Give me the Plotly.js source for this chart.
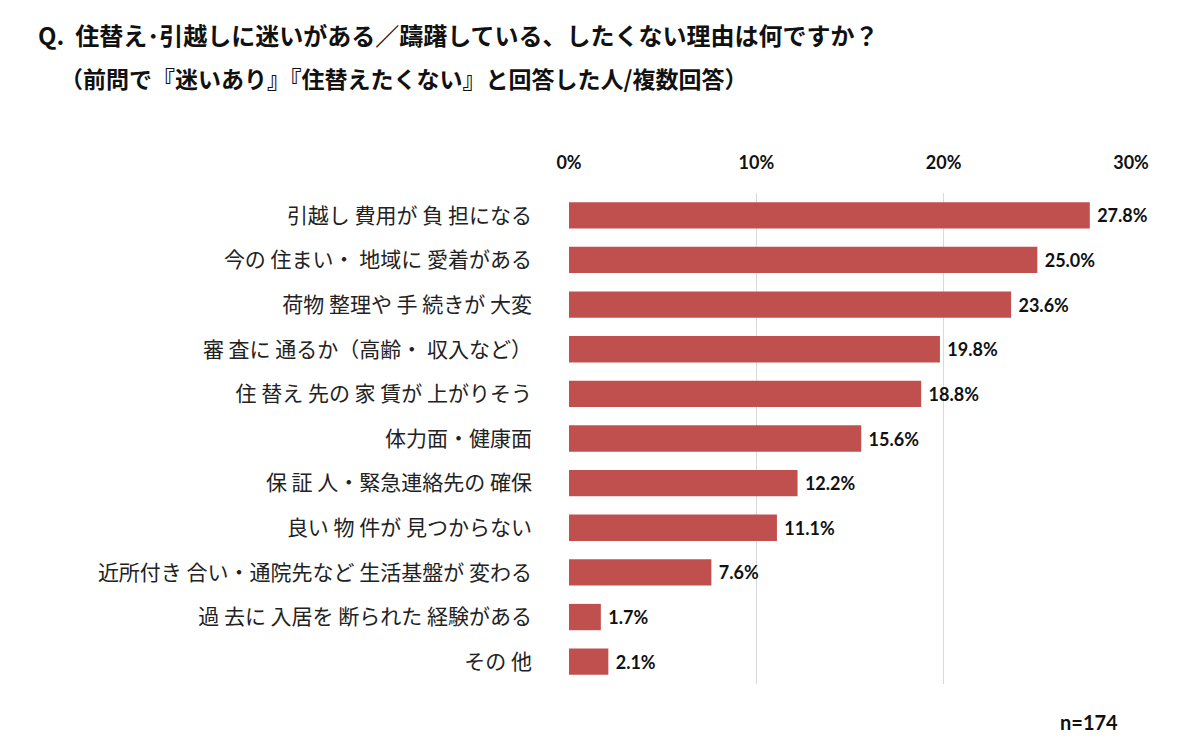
<!DOCTYPE html>
<html>
<head>
<meta charset="utf-8">
<script src="https://cdn.plot.ly/plotly-3.0.1.min.js"></script>
<style>html,body{margin:0;padding:0;background:#fff;}#chart{width:1200px;height:744px;}</style>
</head>
<body>
<div id="chart"></div>
<script>
const categories = [
  "引越し 費用が 負 担になる",
  "今の 住まい・ 地域に 愛着がある",
  "荷物 整理や 手 続きが 大変",
  "審 査に 通るか（高齢・ 収入など）",
  "住 替え 先の 家 賃が 上がりそう",
  "体力面・健康面",
  "保 証 人・緊急連絡先の 確保",
  "良い 物 件が 見つからない",
  "近所付き 合い・通院先など 生活基盤が 変わる",
  "過 去に 入居を 断られた 経験がある",
  "その 他"
];
const values = [27.8, 25.0, 23.6, 19.8, 18.8, 15.6, 12.2, 11.1, 7.6, 1.7, 2.1];
const tickVals = [0, 10, 20, 30];
const tickLabels = ["0%", "10%", "20%", "30%"];
const titleLine1 = "Q.  住替え･引越しに迷いがある／躊躇している、したくない理由は何ですか？";
const titleLine2 = "（前問で『迷いあり』『住替えたくない』と回答した人/複数回答）";
const noteText = "n=174";

const jp = "'Noto Sans CJK JP', 'Noto Sans', sans-serif";
const num = "Lato, 'Open Sans', 'Noto Sans', sans-serif";

const trace = {
  type: 'bar',
  orientation: 'h',
  x: values,
  y: categories,
  marker: {color: '#C0504D', line: {width: 0}},
  width: 0.59,
  text: values.map(v => ' ' + v.toFixed(1) + '%'),
  textposition: 'outside',
  textfont: {family: num, size: 18, color: '#111', weight: 'bold'},
  cliponaxis: false,
  hoverinfo: 'none'
};

const layout = {
  width: 1200,
  height: 744,
  paper_bgcolor: '#fff',
  plot_bgcolor: '#fff',
  margin: {l: 569, r: 69, t: 193, b: 60},
  showlegend: false,
  bargap: 0.41,
  xaxis: {
    side: 'top',
    range: [0, 30],
    tickvals: tickVals,
    ticktext: tickLabels,
    showgrid: true,
    gridcolor: '#d9d9d9',
    gridwidth: 1.5,
    zeroline: false,
    showline: false,
    ticks: '',
    ticklabelstandoff: 19,
    tickfont: {family: num, size: 18, color: '#111', weight: 'bold'},
    fixedrange: true
  },
  yaxis: {
    type: 'category',
    autorange: 'reversed',
    showgrid: false,
    zeroline: false,
    showline: false,
    ticks: '',
    ticklabelstandoff: 36,
    tickfont: {family: jp, size: 21, color: '#222'},
    fixedrange: true
  },
  annotations: [
    {text: titleLine1, xref: 'paper', yref: 'paper', x: -(569-36)/562, y: 1 + (193-34)/491, xanchor: 'left', yanchor: 'middle', showarrow: false,
     font: {family: jp, size: 24, color: '#111', weight: 'bold'}},
    {text: titleLine2, xref: 'paper', yref: 'paper', x: -(569-58)/562, y: 1 + (193-78)/491, xanchor: 'left', yanchor: 'middle', showarrow: false,
     font: {family: jp, size: 23, color: '#111', weight: 'bold'}},
    {text: noteText, xref: 'paper', yref: 'paper', x: (1120-569)/562, y: -(722-684)/491, xanchor: 'right', yanchor: 'middle', showarrow: false,
     font: {family: num, size: 20, color: '#111', weight: 'bold'}}
  ]
};

Plotly.newPlot('chart', [trace], layout, {displayModeBar: false, staticPlot: true});
</script>
</body>
</html>
